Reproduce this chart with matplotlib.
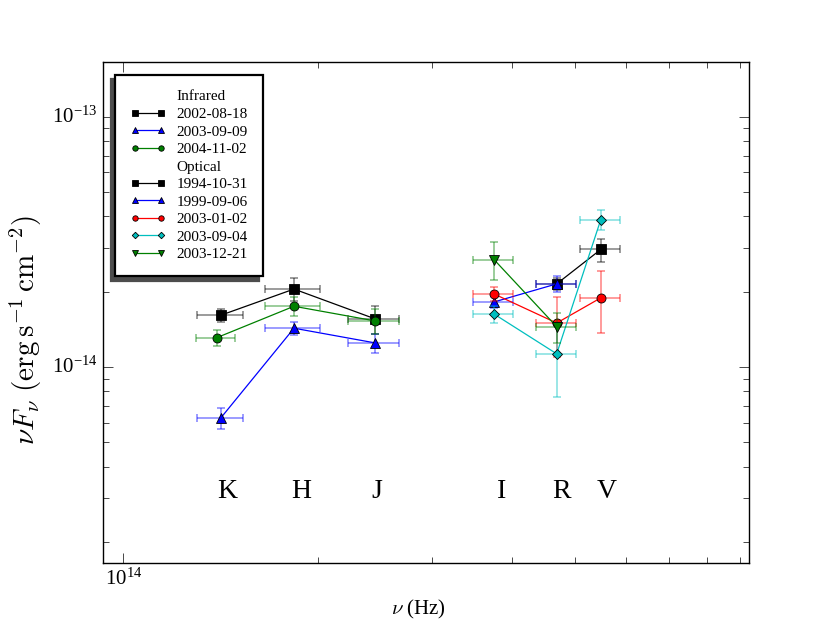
import numpy as np
import matplotlib
matplotlib.use("Agg")
import matplotlib.pyplot as plt
from matplotlib.lines import Line2D

plt.style.use("classic")
plt.rcParams["font.family"] = "serif"
plt.rcParams["font.serif"] = ["Liberation Serif", "DejaVu Serif"]
plt.rcParams["mathtext.fontset"] = "cm"

# band centres (Hz) and half widths
nu_k, nu_k2, nu_h, nu_j = 1.414e14, 1.394e14, 1.837e14, 2.45e14
nu_i, nu_r, nu_v = 3.747e14, 4.686e14, 5.483e14
dnu_k, dnu_k2, dnu_h, dnu_j = 0.115e14, 0.097e14, 0.18e14, 0.22e14
dnu_i, dnu_r, dnu_v = 0.27e14, 0.33e14, 0.395e14

band_names = ["K", "H", "J", "I", "R", "V"]
band_label_x = [1.449e14, 1.888e14, 2.467e14, 3.855e14, 4.759e14, 5.61e14]
band_label_y = 3.0e-15

# infrared epochs
ir_dates = ["2002-08-18", "2003-09-09", "2004-11-02"]
ir_x = [[nu_k, nu_h, nu_j], [nu_k, nu_h, nu_j], [nu_k2, nu_h, nu_j]]
ir_xerr = [[dnu_k, dnu_h, dnu_j], [dnu_k, dnu_h, dnu_j], [dnu_k2, dnu_h, dnu_j]]
ir_y = [[1.61e-14, 2.05e-14, 1.56e-14],
        [6.25e-15, 1.43e-14, 1.25e-14],
        [1.31e-14, 1.75e-14, 1.53e-14]]
ir_yerr = [[0.09e-14, 0.22e-14, 0.20e-14],
           [0.06e-14, 0.09e-14, 0.11e-14],
           [0.10e-14, 0.15e-14, 0.18e-14]]
ir_colors = ["k", "b", "g"]
ir_markers = ["s", "^", "o"]

# optical epochs
opt_dates = ["1994-10-31", "1999-09-06", "2003-01-02", "2003-09-04", "2003-12-21"]
opt_x = [[nu_r, nu_v], [nu_i, nu_r], [nu_i, nu_r, nu_v], [nu_i, nu_r, nu_v], [nu_i, nu_r]]
opt_xerr = [[dnu_r, dnu_v], [dnu_i, dnu_r], [dnu_i, dnu_r, dnu_v],
            [dnu_i, dnu_r, dnu_v], [dnu_i, dnu_r]]
opt_y = [[2.15e-14, 2.95e-14],
         [1.82e-14, 2.15e-14],
         [1.96e-14, 1.50e-14, 1.89e-14],
         [1.63e-14, 1.13e-14, 3.88e-14],
         [2.69e-14, 1.45e-14]]
opt_yerr = [[0.12e-14, 0.31e-14],
            [0.10e-14, 0.16e-14],
            [0.12e-14, 0.40e-14, 0.52e-14],
            [0.13e-14, 0.37e-14, 0.36e-14],
            [0.47e-14, 0.20e-14]]
opt_colors = ["k", "b", "r", "c", "g"]
opt_markers = ["s", "^", "o", "D", "v"]

fig = plt.figure(figsize=(8.31, 6.26), dpi=100, facecolor="white")
ax = fig.add_axes([0.124, 0.1006, 0.7773, 0.7999])


def draw_series(x, xerr, y, yerr, color, marker, label):
    ms = 5.5 if marker == "D" else 6.5
    ax.errorbar(x, y, xerr=xerr, yerr=yerr, fmt="none", ecolor=color,
                alpha=0.5, capsize=3, elinewidth=1.1, capthick=1.1)
    line, = ax.plot(x, y, color=color, marker=marker, markersize=ms,
                    markeredgecolor="k", markeredgewidth=0.6, linewidth=0.9,
                    label=label)
    return line


handles = [Line2D([], [], linestyle="none", marker="none", label="Infrared")]
for i in range(len(ir_dates)):
    handles.append(draw_series(ir_x[i], ir_xerr[i], ir_y[i], ir_yerr[i],
                               ir_colors[i], ir_markers[i], ir_dates[i]))
handles.append(Line2D([], [], linestyle="none", marker="none", label="Optical"))
for i in range(len(opt_dates)):
    handles.append(draw_series(opt_x[i], opt_xerr[i], opt_y[i], opt_yerr[i],
                               opt_colors[i], opt_markers[i], opt_dates[i]))

for name, bx in zip(band_names, band_label_x):
    ax.text(bx, band_label_y, name, fontsize=20, ha="center", va="baseline")

ax.set_xscale("log")
ax.set_yscale("log")
ax.set_xticks([1e14])
ax.set_yticks([1e-14, 1e-13])
ax.set_xlim(9.3e13, 9.3e14)
ax.set_ylim(1.65e-15, 1.65e-13)
ax.tick_params(which="major", length=7, labelsize=15)
ax.tick_params(which="minor", length=4)
ax.set_xlabel(r"$\nu$ (Hz)", fontsize=15)
ax.set_ylabel(r"$\nu F_\nu\ (\mathrm{erg\,s^{-1}\,cm^{-2}})$", fontsize=21)
ax.xaxis.set_label_coords(0.488, -0.07)
ax.yaxis.set_label_coords(-0.092, 0.465)

leg = ax.legend(handles=handles, loc="upper left", fontsize=11, numpoints=2,
                markerscale=0.6, labelspacing=0.25, handlelength=2.3,
                handletextpad=0.7, borderaxespad=0.8, borderpad=1.0,
                fancybox=False,
                shadow={"ox": -3, "oy": -3, "color": "0.3", "alpha": 1.0})
leg.get_frame().set_linewidth(1.6)
leg.get_frame().set_edgecolor("k")

fig.savefig("out.png", dpi=100, facecolor="white")
